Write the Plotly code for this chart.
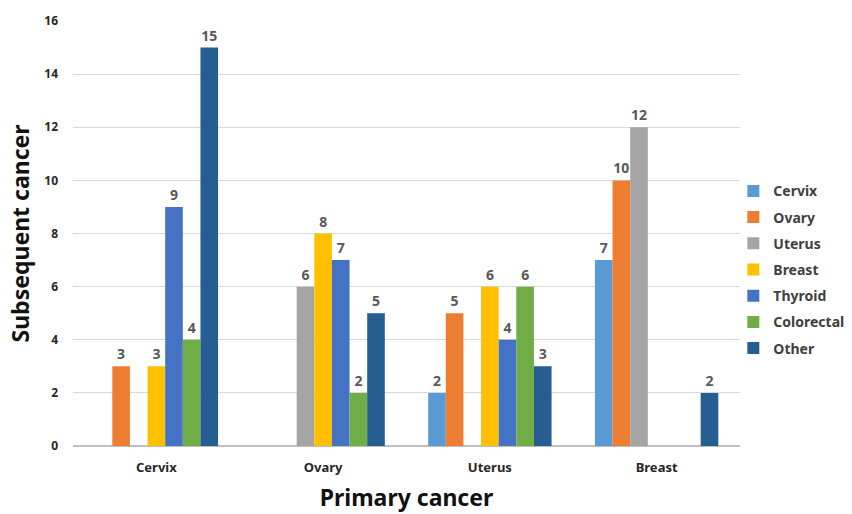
import plotly.graph_objects as go

# Primary cancer groups on the x axis
categories = ["Cervix", "Ovary", "Uterus", "Breast"]

# Subsequent cancer counts per primary cancer group
cervix = [0, 0, 2, 7]
ovary = [3, 0, 5, 10]
uterus = [0, 6, 0, 12]
breast = [3, 8, 6, 0]
thyroid = [9, 7, 4, 0]
colorectal = [4, 2, 6, 0]
other = [15, 5, 3, 2]

series_names = ["Cervix", "Ovary", "Uterus", "Breast", "Thyroid", "Colorectal", "Other"]
series_values = [cervix, ovary, uterus, breast, thyroid, colorectal, other]
series_colors = ["#5B9BD5", "#ED7D31", "#A5A5A5", "#FFC000", "#4472C4", "#70AD47", "#255E91"]

y_ticks = [0, 2, 4, 6, 8, 10, 12, 14, 16]

FONT = "Noto Sans"

fig = go.Figure()
for name, vals, color in zip(series_names, series_values, series_colors):
    fig.add_trace(go.Bar(
        name=name,
        x=categories,
        y=vals,
        marker=dict(color=color, line=dict(width=0)),
        text=[str(v) if v else "" for v in vals],
        textposition="outside",
        cliponaxis=False,
        textfont=dict(family=FONT, size=14, color="#595959", weight="bold"),
        legendgroup=name,
    ))

fig.update_layout(
    width=852,
    height=514,
    barmode="group",
    bargap=0.26,
    bargroupgap=0,
    plot_bgcolor="white",
    paper_bgcolor="white",
    margin=dict(l=73, r=112, t=21, b=68, autoexpand=False),
    font=dict(family=FONT, color="#404040"),
    legend=dict(
        x=0.99,
        y=0.637,
        xanchor="left",
        yanchor="top",
        bgcolor="rgba(0,0,0,0)",
        font=dict(family=FONT, size=14, color="#404040", weight="bold"),
        tracegroupgap=5,
        itemwidth=30,
    ),
    xaxis=dict(
        showgrid=False,
        showline=False,
        ticks="",
        tickfont=dict(family=FONT, size=13, color="#262626", weight="bold"),
        ticklabelstandoff=12,
        title=dict(text="Primary cancer", font=dict(family=FONT, size=23, color="#111111", weight="bold"), standoff=14),
    ),
    yaxis=dict(
        range=[0, 16],
        tickvals=y_ticks,
        showgrid=True,
        gridcolor="#D9D9D9",
        gridwidth=1,
        zeroline=True,
        zerolinecolor="#BFBFBF",
        zerolinewidth=2,
        showline=False,
        ticks="",
        tickfont=dict(family=FONT, size=12, color="#262626", weight="bold"),
        ticklabelstandoff=14,
        title=dict(text="Subsequent cancer", font=dict(family=FONT, size=23, color="#111111", weight="bold"), standoff=8),
    ),
)

fig.write_html("out.html")
